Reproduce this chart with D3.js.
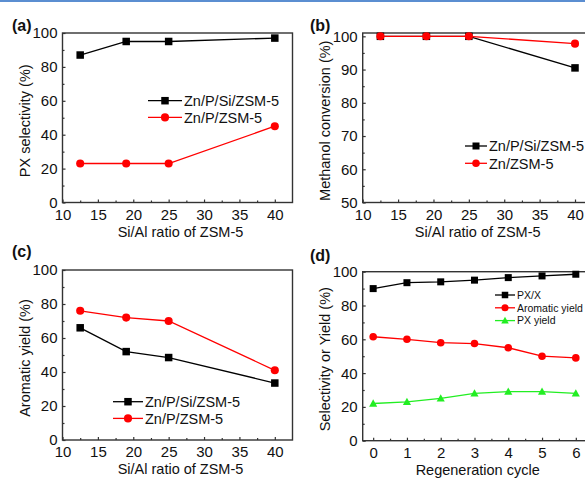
<!DOCTYPE html>
<html><head><meta charset="utf-8">
<script src="https://cdn.jsdelivr.net/npm/d3@7"></script>
<style>body{margin:0;background:#fff}svg{display:block;font-family:"Liberation Sans",Arial,sans-serif}</style>
</head><body>
<script>
// ---- data ----
const siAl = [12.5, 19, 25, 40];
const aPXsel_ZnPSi = [87, 95, 95, 97];
const aPXsel_ZnP = [23, 23, 23, 45];
const bConv_ZnPSi = [100, 100, 100, 90.5];
const bConv_Zn = [100, 100, 100, 97.8];
const cArom_ZnPSi = [66, 52, 48.5, 33.5];
const cArom_ZnP = [76, 72, 70, 41];
const cycles = [0, 1, 2, 3, 4, 5, 6];
const dPXX = [90, 93.5, 94, 95, 96.5, 97.5, 98.5];
const dArom = [61.5, 60, 58, 57.5, 55, 50, 49];
const dPXyield = [22, 23, 25, 28, 29, 29, 28];
const siAlTicks = [10, 15, 20, 25, 30, 35, 40];
const cycleTicks = [0, 1, 2, 3, 4, 5, 6];

const W = 585, H = 480;
const svg = d3.select("body").append("svg").attr("width", W).attr("height", H);
svg.append("rect").attr("x",0).attr("y",0).attr("width",W).attr("height",2).attr("fill","#5b8ed1");

function marker(g, shape, x, y, color, s) {
  if (shape === "square") {
    g.append("rect").attr("x", x - s/2).attr("y", y - s/2).attr("width", s).attr("height", s).attr("fill", color);
  } else if (shape === "circle") {
    g.append("circle").attr("cx", x).attr("cy", y).attr("r", s/2 + 0.3).attr("fill", color);
  } else {
    const h = s * 1.0;
    g.append("path").attr("d", `M${x},${y - h*0.6}L${x + s*0.58},${y + h*0.45}L${x - s*0.58},${y + h*0.45}Z`).attr("fill", color);
  }
}

function panel(o) {
  const g = svg.append("g");
  const x = d3.scaleLinear().domain(o.xdom).range([o.left, o.right]);
  const y = d3.scaleLinear().domain(o.ydom).range([o.bottom, o.top]);
  // ticks
  const xa = d3.axisBottom(x).tickValues(o.xticks).tickSize(-3).tickFormat(d3.format("d"));
  const xaxis = g.append("g").attr("transform", `translate(0,${o.bottom})`).call(xa);
  g.append("g").attr("transform", `translate(0,${o.bottom})`)
    .call(d3.axisBottom(x).tickValues(o.xminor).tickSize(-2).tickFormat(""))
    .call(s => s.select(".domain").remove());
  const ya = d3.axisLeft(y).tickValues(o.yticks).tickSize(-3).tickFormat(d3.format("d"));
  const yaxis = g.append("g").attr("transform", `translate(${o.left},0)`).call(ya);
  g.append("g").attr("transform", `translate(${o.left},0)`)
    .call(d3.axisLeft(y).tickValues(o.yminor).tickSize(-2).tickFormat(""))
    .call(s => s.select(".domain").remove());
  [xaxis, yaxis].forEach(a => {
    a.select(".domain").remove();
    a.selectAll("text").attr("fill", "#111").style("font-size", "15px").style("font-family", '"Liberation Sans",Arial,sans-serif');
  });
  g.selectAll(".tick line").attr("stroke", "#333").attr("stroke-width", 1.2);
  xaxis.selectAll("text").attr("dy", null).attr("y", 17);
  yaxis.selectAll("text").attr("x", -5).attr("dy", "0.33em");
  // frame
  g.append("rect").attr("x", o.left).attr("y", o.top).attr("width", o.right - o.left).attr("height", o.bottom - o.top)
    .attr("fill", "none").attr("stroke", "#333").attr("stroke-width", 1.4);
  // titles
  g.append("text").attr("x", (o.left + o.right) / 2 + (o.xtOff || 0)).attr("y", o.bottom + 34)
    .attr("text-anchor", "middle").style("font-size", "14.5px").attr("fill", "#111").text(o.xtitle);
  g.append("text").attr("transform", `translate(${o.left - 38},${(o.top + o.bottom)/2 + 3}) rotate(-90)`)
    .attr("text-anchor", "middle").attr("dy", "0.35em").style("font-size", "14.5px").attr("fill", "#111").text(o.ytitle);
  g.append("text").attr("x", o.lx).attr("y", o.ly).style("font-size", "16px").style("font-weight", "bold").attr("fill", "#111").text(o.label);
  // series
  const line = d3.line().x(d => x(d[0])).y(d => y(d[1]));
  o.series.forEach(s => {
    const pts = o.xs.map((xv, i) => [xv, s.values[i]]);
    g.append("path").attr("d", line(pts)).attr("fill", "none").attr("stroke", s.color).attr("stroke-width", 1.3);
    pts.forEach(p => marker(g, s.shape, x(p[0]), y(p[1]), s.color, o.ms));
  });
  // legend
  o.series.forEach((s, i) => {
    const ly = o.leg.y + i * o.leg.dy;
    g.append("line").attr("x1", o.leg.x1).attr("x2", o.leg.x2).attr("y1", ly).attr("y2", ly).attr("stroke", s.color).attr("stroke-width", 1.3);
    marker(g, s.shape, (o.leg.x1 + o.leg.x2) / 2, ly, s.color, o.leg.ms);
    g.append("text").attr("x", o.leg.x2 + 2).attr("y", ly).attr("dy", "0.36em").style("font-size", o.leg.fs + "px").attr("fill", "#111").text(s.name);
  });
}

const xminorSiAl = [12.5, 17.5, 22.5, 27.5, 32.5, 37.5];
panel({left: 62.5, right: 292.5, top: 33, bottom: 202.5, xdom: [10, 42.5], ydom: [0, 100],
  xticks: siAlTicks, xminor: xminorSiAl, yticks: [0, 20, 40, 60, 80, 100], yminor: [10, 30, 50, 70, 90],
  xtitle: "Si/Al ratio of ZSM-5", ytitle: "PX selectivity (%)", label: "(a)", lx: 12, ly: 31, ms: 7.5, xs: siAl, xtOff: 3,
  series: [
    {name: "Zn/P/Si/ZSM-5", values: aPXsel_ZnPSi, color: "#000000", shape: "square"},
    {name: "Zn/P/ZSM-5", values: aPXsel_ZnP, color: "#ff0000", shape: "circle"}],
  leg: {x1: 148, x2: 182, y: 100.7, dy: 16.7, ms: 7.5, fs: 14.5}});

panel({left: 362.7, right: 592.7, top: 33, bottom: 202.5, xdom: [10, 42.5], ydom: [50, 101],
  xticks: siAlTicks, xminor: xminorSiAl, yticks: [50, 60, 70, 80, 90, 100], yminor: [55, 65, 75, 85, 95],
  xtitle: "Si/Al ratio of ZSM-5", ytitle: "Methanol conversion (%)", label: "(b)", lx: 310, ly: 31, ms: 7.5, xs: siAl, xtOff: 0,
  series: [
    {name: "Zn/P/Si/ZSM-5", values: bConv_ZnPSi, color: "#000000", shape: "square"},
    {name: "Zn/ZSM-5", values: bConv_Zn, color: "#ff0000", shape: "circle"}],
  leg: {x1: 465, x2: 487, y: 146, dy: 17.3, ms: 7, fs: 14.5}});

panel({left: 62.5, right: 292.5, top: 270, bottom: 440, xdom: [10, 42.5], ydom: [0, 100],
  xticks: siAlTicks, xminor: xminorSiAl, yticks: [0, 20, 40, 60, 80, 100], yminor: [10, 30, 50, 70, 90],
  xtitle: "Si/Al ratio of ZSM-5", ytitle: "Aromatic yield (%)", label: "(c)", lx: 12, ly: 256.5, ms: 7.5, xs: siAl, xtOff: 3,
  series: [
    {name: "Zn/P/Si/ZSM-5", values: cArom_ZnPSi, color: "#000000", shape: "square"},
    {name: "Zn/P/ZSM-5", values: cArom_ZnP, color: "#ff0000", shape: "circle"}],
  leg: {x1: 113, x2: 143, y: 401.7, dy: 16.7, ms: 7.5, fs: 14.5}});

panel({left: 362.7, right: 592.7, top: 271.7, bottom: 440.7, xdom: [-0.31, 6.5], ydom: [0, 100],
  xticks: cycleTicks, xminor: [0.5, 1.5, 2.5, 3.5, 4.5, 5.5, 6.5], yticks: [0, 20, 40, 60, 80, 100], yminor: [10, 30, 50, 70, 90],
  xtitle: "Regeneration cycle", ytitle: "Selectivity or Yield (%)", label: "(d)", lx: 310, ly: 261, ms: 7, xs: cycles, xtOff: 0,
  series: [
    {name: "PX/X", values: dPXX, color: "#000000", shape: "square"},
    {name: "Aromatic yield", values: dArom, color: "#ff0000", shape: "circle"},
    {name: "PX yield", values: dPXyield, color: "#22ee22", shape: "triangle"}],
  leg: {x1: 495, x2: 515, y: 295, dy: 12.8, ms: 6.5, fs: 10.5}});
</script>
</body></html>
